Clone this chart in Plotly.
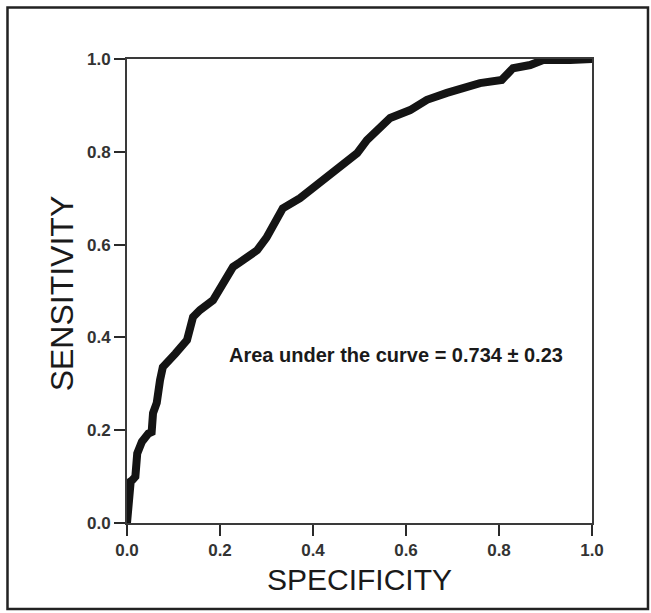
import plotly.graph_objects as go

# ROC curve points (specificity on x, sensitivity on y)
specificity = [0.0, 0.002, 0.004, 0.008, 0.012, 0.018, 0.022, 0.032, 0.046, 0.053,
               0.056, 0.064, 0.071, 0.077, 0.104, 0.129, 0.142, 0.157, 0.185, 0.208,
               0.228, 0.243, 0.280, 0.300, 0.335, 0.372, 0.443, 0.495, 0.516, 0.566,
               0.609, 0.645, 0.688, 0.759, 0.806, 0.830, 0.867, 0.895, 0.953, 0.968,
               1.0]
sensitivity = [0.0, 0.030, 0.065, 0.090, 0.093, 0.100, 0.150, 0.175, 0.193, 0.196,
               0.237, 0.259, 0.308, 0.336, 0.365, 0.394, 0.444, 0.459, 0.480, 0.515,
               0.552, 0.562, 0.588, 0.615, 0.678, 0.700, 0.756, 0.797, 0.825, 0.873,
               0.890, 0.912, 0.927, 0.948, 0.955, 0.980, 0.987, 0.998, 0.998, 1.0,
               1.0]

tick_vals = [0.0, 0.2, 0.4, 0.6, 0.8, 1.0]
tick_text = ["0.0", "0.2", "0.4", "0.6", "0.8", "1.0"]

x_title = "SPECIFICITY"
y_title = "SENSITIVITY"
auc_label = "Area under the curve = 0.734 ± 0.23"

fig = go.Figure()
fig.add_trace(go.Scatter(
    x=specificity, y=sensitivity, mode="lines",
    line=dict(color="#141414", width=8, shape="linear"),
    cliponaxis=False, showlegend=False, hoverinfo="skip",
))

axis_common = dict(
    range=[0, 1], showgrid=False, zeroline=False,
    showline=True, linecolor="#3a3a3a", linewidth=2, mirror=True,
    ticks="outside", ticklen=11, tickwidth=2, tickcolor="#2a2a2a",
    tickvals=tick_vals, ticktext=tick_text,
    tickfont=dict(family="Liberation Sans, Arial", size=17, color="#333333", weight="bold"),
)

fig.update_layout(
    width=651, height=613,
    margin=dict(l=127, r=59, t=59, b=90),
    paper_bgcolor="white", plot_bgcolor="white",
    xaxis=axis_common,
    yaxis=axis_common,
    annotations=[
        dict(x=0.215, y=0.363, xref="x", yref="y", xanchor="left", yanchor="middle",
             text=auc_label, showarrow=False,
             font=dict(family="Liberation Sans, Arial", size=20, color="#1a1a1a",
                       weight="bold")),
        # axis titles
        dict(x=0.5, y=-0.1228, xref="paper", yref="paper", xanchor="center",
             yanchor="middle", text=x_title, showarrow=False,
             font=dict(family="Liberation Sans, Arial", size=30, color="#1a1a1a")),
        dict(x=-0.139, y=0.4957, xref="paper", yref="paper", xanchor="center",
             yanchor="middle", text=y_title, textangle=-90, showarrow=False,
             font=dict(family="Liberation Sans, Arial", size=32, color="#1a1a1a")),
    ],
    shapes=[dict(
        type="rect", xref="paper", yref="paper",
        x0=-0.257, y0=-0.1853, x1=1.1204, y1=1.111,
        line=dict(color="#222222", width=2.5), fillcolor="rgba(0,0,0,0)",
    )],
)

fig.write_html("out.html")
